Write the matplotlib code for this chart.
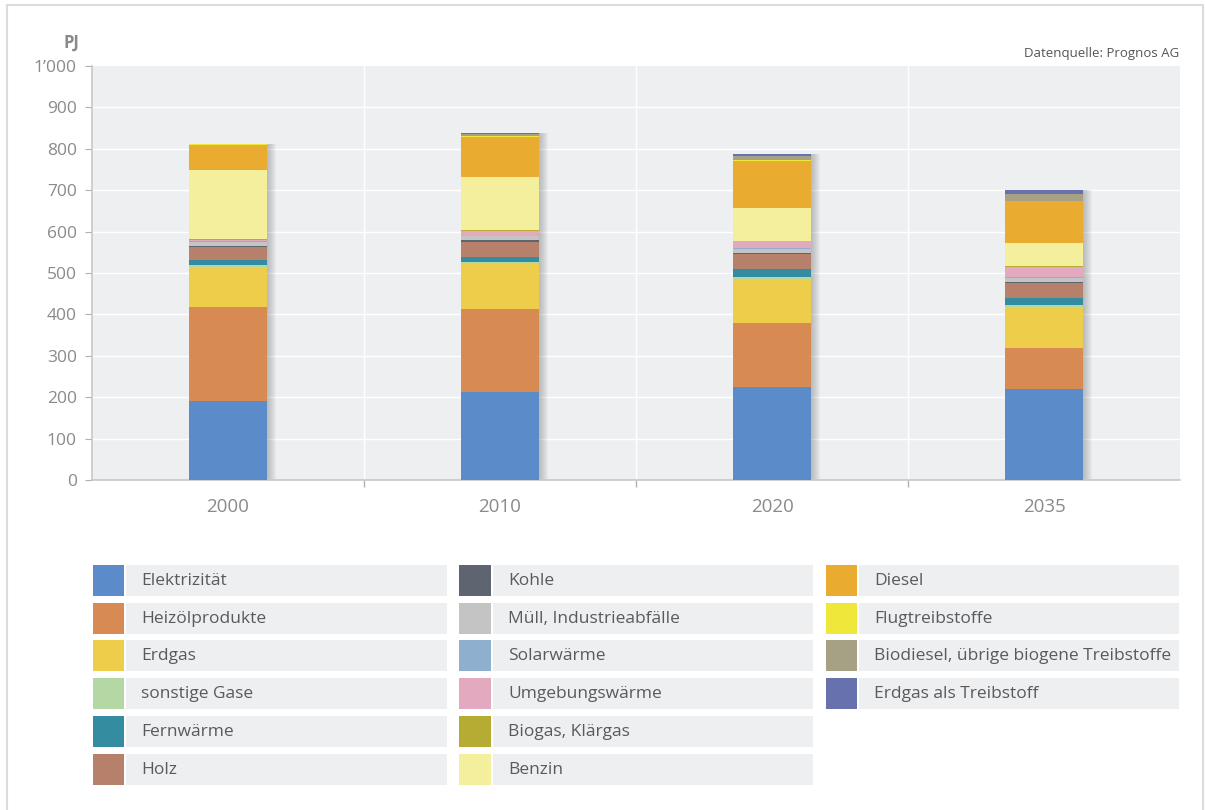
import matplotlib
matplotlib.use("Agg")
import matplotlib.pyplot as plt
import matplotlib.transforms as mtransforms
from matplotlib.patches import Rectangle
import numpy as np

plt.rcParams["font.family"] = ["Open Sans", "DejaVu Sans"]

years = ["2000", "2010", "2020", "2035"]

# Energieverbrauch nach Energieträger, PJ
elektrizitaet = [191, 213, 224, 220]
heizoel = [228, 201, 156, 98]
erdgas = [95, 107, 105, 101]
sonstige_gase = [5, 6, 6, 4]
fernwaerme = [12, 12, 18, 16]
holz = [31, 36, 36, 36]
kohle = [4, 4, 3, 3]
muell = [10, 10, 11, 9]
solarwaerme = [1, 1, 2, 4]
umgebungswaerme = [3, 12, 16, 24]
biogas = [1, 2, 1, 1]
benzin = [168, 129, 79, 57]
diesel = [59, 96, 114, 101]
flugtreibstoffe = [3, 1, 2, 1]
biodiesel = [0, 6, 10, 17]
erdgas_treibstoff = [0, 3, 4, 8]

series = [
    ("Elektrizität", elektrizitaet, "#5b8bc8"),
    ("Heizölprodukte", heizoel, "#d78a52"),
    ("Erdgas", erdgas, "#edcd4a"),
    ("sonstige Gase", sonstige_gase, "#b3d8a4"),
    ("Fernwärme", fernwaerme, "#348ca0"),
    ("Holz", holz, "#b6806b"),
    ("Kohle", kohle, "#5e6571"),
    ("Müll, Industrieabfälle", muell, "#c4c4c4"),
    ("Solarwärme", solarwaerme, "#8eb0ce"),
    ("Umgebungswärme", umgebungswaerme, "#e3aabf"),
    ("Biogas, Klärgas", biogas, "#b6ab33"),
    ("Benzin", benzin, "#f3ef9d"),
    ("Diesel", diesel, "#e9ab30"),
    ("Flugtreibstoffe", flugtreibstoffe, "#efe83b"),
    ("Biodiesel, übrige biogene Treibstoffe", biodiesel, "#a6a184"),
    ("Erdgas als Treibstoff", erdgas_treibstoff, "#6771ad"),
]

W, H = 1205, 810
fig = plt.figure(figsize=(W / 100, H / 100), dpi=100)
fig.patch.set_facecolor("white")

# outer frame
fig.add_artist(Rectangle((7 / W, -0.01), (1203 - 7) / W, (H - 5) / H + 0.01,
                         transform=fig.transFigure, fill=False,
                         edgecolor="#dcdcdc", linewidth=1.5))

ax = fig.add_axes([92 / W, (H - 480) / H, 1088 / W, 414 / H])
ax.set_facecolor("#eeeff1")
x = np.arange(len(years))
width = 0.29

# soft shadow to the right of each bar
totals = np.sum([s[1] for s in series], axis=0)
for k in range(1, 10):
    tr = mtransforms.offset_copy(ax.transData, fig=fig, x=k * 0.9, y=0, units="dots")
    ax.bar(x, totals, width=width, color="#707070", alpha=0.05, transform=tr,
           zorder=2, linewidth=0)

bottom = np.zeros(len(years))
for name, vals, col in series:
    ax.bar(x, vals, width=width, bottom=bottom, color=col, zorder=3, linewidth=0)
    bottom += np.array(vals)

ax.set_xlim(-0.5, len(years) - 0.5)
ax.set_ylim(0, 1000)
ax.set_yticks(range(0, 1001, 100))
ax.set_yticklabels([f"{v:,}".replace(",", "\u2019") for v in range(0, 1001, 100)])
for v in range(100, 1000, 100):
    ax.axhline(v, color="white", linewidth=1.0, zorder=1)
for b in [0.5, 1.5, 2.5]:
    ax.axvline(b, color="white", linewidth=1.0, zorder=1)

ax.set_xticks(x)
ax.set_xticklabels(years)
ax.set_xticks([0.5, 1.5, 2.5], minor=True)
ax.tick_params(axis="x", which="major", length=0, pad=13, labelsize=13.5, labelcolor="#8a8a8a")
ax.tick_params(axis="x", which="minor", length=5, color="#b0b0b0", width=1)
ax.tick_params(axis="y", length=5, color="#b0b0b0", pad=6, labelsize=12.5, labelcolor="#8a8a8a")
for sp in ["top", "right"]:
    ax.spines[sp].set_visible(False)
for sp in ["left", "bottom"]:
    ax.spines[sp].set_color("#c8c8c8")
    ax.spines[sp].set_linewidth(1.2)

fig.text(79 / W, 1 - 43 / H, "PJ", ha="right", va="center", fontsize=12,
         fontweight="bold", color="#8a8a8a")
fig.text(1179 / W, 1 - 53 / H, "Datenquelle: Prognos AG", ha="right", va="center",
         fontsize=9.5, color="#555555")

# legend in three columns, six rows each
lg = fig.add_axes([0, 0, 1, 1], zorder=5)
lg.set_xlim(0, W)
lg.set_ylim(H, 0)
lg.axis("off")
cols = [(93, 124, 447), (459, 491, 813), (826, 857, 1179)]
for i, (name, vals, col) in enumerate(series):
    c, r = i // 6, i % 6
    sx0, sx1, bx1 = cols[c]
    y0 = 565 + r * 37.7
    lg.add_patch(Rectangle((sx1 + 2, y0), bx1 - sx1 - 2, 31, facecolor="#eeeff1",
                           edgecolor="none"))
    lg.add_patch(Rectangle((sx0, y0), sx1 - sx0, 31, facecolor=col, edgecolor="none"))
    lg.text(sx1 + 17, y0 + 16, name, va="center", ha="left", fontsize=12.5,
            color="#5a5a5a")

fig.savefig("out.png", dpi=100)
